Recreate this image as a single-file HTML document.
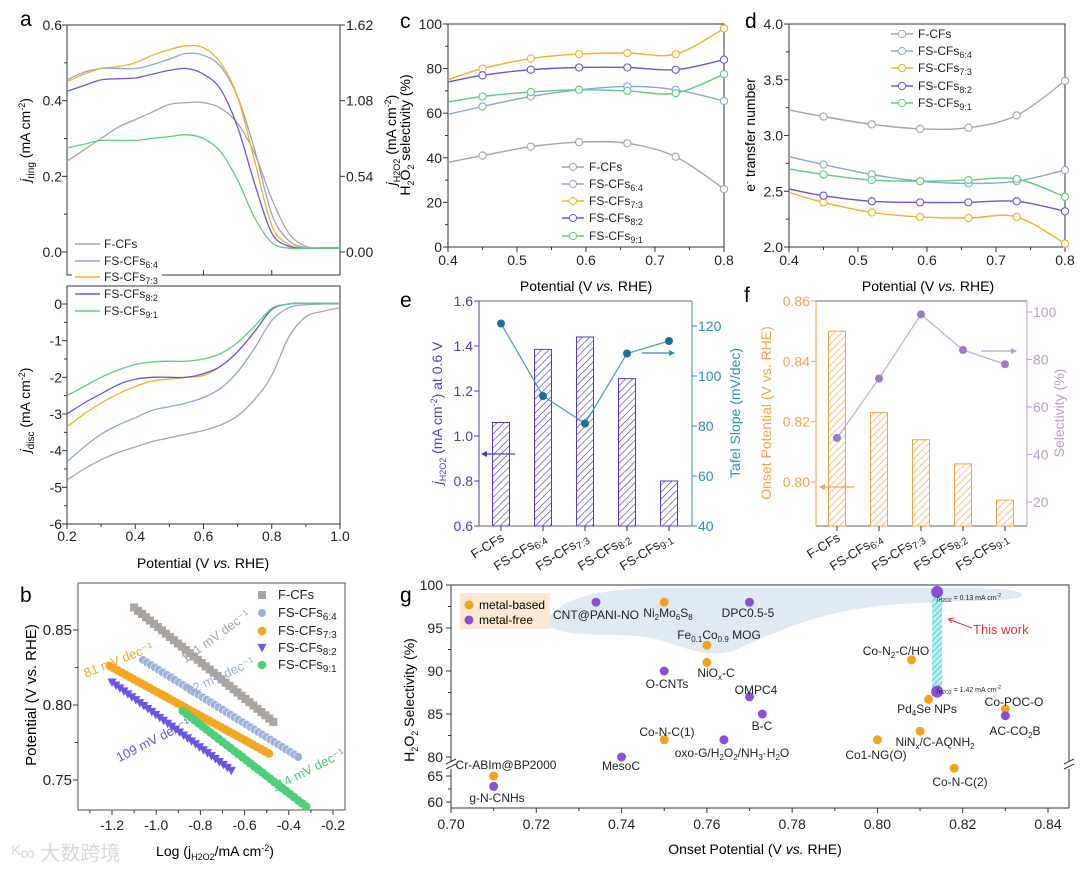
<!DOCTYPE html>
<html><head><meta charset="utf-8">
<style>
html,body{margin:0;padding:0;background:#fff;}
svg{display:block;}
text{font-family:"Liberation Sans","Noto Sans CJK SC",sans-serif;}
</style></head>
<body>
<svg id="fig" width="1080" height="874" viewBox="0 0 1080 874" xmlns="http://www.w3.org/2000/svg">
<defs>
<pattern id="hatchE" width="5" height="5" patternUnits="userSpaceOnUse" patternTransform="rotate(45)"><rect width="5" height="5" fill="#fff"/><line x1="0" y1="0" x2="0" y2="5" stroke="#4a3dc9" stroke-width="1.3"/></pattern>
<pattern id="hatchF" width="5" height="5" patternUnits="userSpaceOnUse" patternTransform="rotate(45)"><rect width="5" height="5" fill="#fff"/><line x1="0" y1="0" x2="0" y2="5" stroke="#f4a24a" stroke-width="1.3"/></pattern>
<pattern id="hatchG" width="4" height="4" patternUnits="userSpaceOnUse" patternTransform="rotate(45)"><rect width="4" height="4" fill="#bdeff2"/><line x1="0" y1="0" x2="0" y2="4" stroke="#3cc4cf" stroke-width="1.6"/></pattern>
</defs>

<text x="20" y="26" font-size="21">a</text>
<text x="20" y="602" font-size="21">b</text>
<text x="400" y="28" font-size="21">c</text>
<text x="745" y="28" font-size="21">d</text>
<text x="400" y="307" font-size="21">e</text>
<text x="744" y="302" font-size="21">f</text>
<text x="400" y="602" font-size="21">g</text>

<text transform="translate(30,140) rotate(-90)" text-anchor="middle" font-size="14"><tspan font-style="italic">j</tspan><tspan font-size="10" dy="4">ring</tspan><tspan dy="-4"> (mA cm</tspan><tspan font-size="9" dy="-5">-2</tspan><tspan dy="5">)</tspan></text>
<text transform="translate(396,140) rotate(-90)" text-anchor="middle" font-size="14"><tspan font-style="italic">j</tspan><tspan font-size="9" dy="4">H2O2</tspan><tspan dy="-4"> (mA cm</tspan><tspan font-size="9" dy="-5">-2</tspan><tspan dy="5">)</tspan></text>
<text transform="translate(30,410) rotate(-90)" text-anchor="middle" font-size="14"><tspan font-style="italic">j</tspan><tspan font-size="10" dy="4">disc</tspan><tspan dy="-4"> (mA cm</tspan><tspan font-size="9" dy="-5">-2</tspan><tspan dy="5">)</tspan></text>
<text x="203" y="568" text-anchor="middle" font-size="14">Potential (V <tspan font-style="italic">vs.</tspan> RHE)</text>

<text transform="translate(36,695) rotate(-90)" text-anchor="middle" font-size="15">Potential (V vs. RHE)</text>
<text x="215" y="856" text-anchor="middle" font-size="14">Log (j<tspan font-size="9" dy="4">H2O2</tspan><tspan dy="-4">/mA cm</tspan><tspan font-size="9" dy="-5">-2</tspan><tspan dy="5">)</tspan></text>
<text x="12" y="860" font-size="20" fill="#d8d8d8">ᴷ∞ 大数跨境</text>

<text transform="translate(410,135) rotate(-90)" text-anchor="middle" font-size="14">H<tspan font-size="9" dy="4">2</tspan><tspan dy="-4">O</tspan><tspan font-size="9" dy="4">2</tspan><tspan dy="-4"> selectivity (%)</tspan></text>
<text x="586" y="291" text-anchor="middle" font-size="14">Potential (V <tspan font-style="italic">vs.</tspan> RHE)</text>
<text transform="translate(755,135) rotate(-90)" text-anchor="middle" font-size="14">e<tspan font-size="9" dy="-5">-</tspan><tspan dy="5"> transfer number</tspan></text>
<text x="928" y="291" text-anchor="middle" font-size="14">Potential (V <tspan font-style="italic">vs.</tspan> RHE)</text>

<text transform="translate(442,413) rotate(-90)" text-anchor="middle" font-size="14" fill="#4a3dc9"><tspan font-style="italic">j</tspan><tspan font-size="9" dy="4">H2O2</tspan><tspan dy="-4"> (mA cm</tspan><tspan font-size="9" dy="-5">-2</tspan><tspan dy="5">) at 0.6 V</tspan></text>
<text transform="translate(740,413) rotate(-90)" text-anchor="middle" font-size="14" fill="#2d8db5">Tafel Slope (mV/dec)</text>
<text transform="translate(771,413) rotate(-90)" text-anchor="middle" font-size="14" fill="#f4a24a">Onset Potential (V vs. RHE)</text>
<text transform="translate(1064,413) rotate(-90)" text-anchor="middle" font-size="14" fill="#b99bd3">Selectivity (%)</text>

<text transform="translate(414,700) rotate(-90)" text-anchor="middle" font-size="14">H<tspan font-size="9" dy="4">2</tspan><tspan dy="-4">O</tspan><tspan font-size="9" dy="4">2</tspan><tspan dy="-4"> Selectivity (%)</tspan></text>
<text x="755" y="854" text-anchor="middle" font-size="14">Onset Potential (V <tspan font-style="italic">vs.</tspan> RHE)</text>

<path d="M548,626 C548,600 600,588 660,588 L960,588 C1000,588 1025,590 1022,596 C1015,602 960,600 900,604 C820,610 780,630 740,648 C715,660 690,650 660,640 C620,630 570,640 548,626 Z" fill="#dfeaf4"/>
<g>
<rect x="460" y="593" width="90" height="36" fill="#fde9d3"/>
<circle cx="469" cy="605" r="4.5" fill="#f7a21b"/><text x="479" y="609" font-size="12">metal-based</text>
<circle cx="469" cy="620" r="4.5" fill="#8a4fd6"/><text x="479" y="624" font-size="12">metal-free</text>
</g>

<g id="layer"></g>
</svg>
<script>
const seriesNames = ['F-CFs','FS-CFs6:4','FS-CFs7:3','FS-CFs8:2','FS-CFs9:1'];
const seriesSubs = ['','6:4','7:3','8:2','9:1'];
const aPotential = [0.2,0.25,0.3,0.35,0.4,0.45,0.5,0.55,0.6,0.65,0.7,0.75,0.8,0.85,0.9,0.95,1.0];
const aRingF  = [0.24,0.27,0.30,0.33,0.35,0.37,0.39,0.395,0.395,0.38,0.34,0.26,0.14,0.05,0.015,0.01,0.01];
const aRing64 = [0.455,0.475,0.485,0.485,0.485,0.495,0.51,0.525,0.52,0.49,0.41,0.27,0.10,0.03,0.012,0.012,0.012];
const aRing73 = [0.45,0.47,0.485,0.49,0.50,0.52,0.535,0.545,0.54,0.50,0.41,0.24,0.07,0.02,0.01,0.01,0.01];
const aRing82 = [0.425,0.44,0.455,0.458,0.46,0.47,0.48,0.485,0.47,0.43,0.33,0.18,0.05,0.015,0.01,0.01,0.01];
const aRing91 = [0.275,0.285,0.295,0.295,0.295,0.30,0.305,0.31,0.30,0.265,0.19,0.09,0.025,0.01,0.01,0.01,0.01];
const aDiscF  = [-4.8,-4.5,-4.25,-4.05,-3.9,-3.75,-3.65,-3.55,-3.45,-3.3,-3.05,-2.6,-1.95,-0.9,-0.35,-0.2,-0.1];
const aDisc64 = [-4.3,-3.9,-3.55,-3.3,-3.1,-2.9,-2.8,-2.7,-2.55,-2.3,-1.85,-1.2,-0.45,-0.1,-0.02,0,0];
const aDisc73 = [-3.35,-3.0,-2.7,-2.45,-2.25,-2.1,-2.05,-2.0,-1.95,-1.7,-1.3,-0.75,-0.15,0,0.02,0.02,0.02];
const aDisc82 = [-3.0,-2.7,-2.45,-2.2,-2.05,-2.0,-2.0,-2.0,-1.9,-1.7,-1.3,-0.75,-0.15,0,0.02,0.02,0.02];
const aDisc91 = [-2.5,-2.25,-2.0,-1.8,-1.65,-1.58,-1.56,-1.56,-1.5,-1.35,-1.05,-0.6,-0.12,0,0.02,0.02,0.02];

const bStartLog = [-1.1,-1.06,-1.21,-1.2,-0.88];
const bEndLog   = [-0.47,-0.35,-0.48,-0.65,-0.32];
const bStartV   = [0.865,0.83,0.826,0.815,0.796];
const bTafel    = [121,92,81,109,114];

const cdPotential = [0.4,0.45,0.52,0.59,0.66,0.73,0.8];
const cSelF  = [38,41,45,47,46.5,40.5,26];
const cSel64 = [59.5,63,67.5,70.5,72,70.5,65.5];
const cSel73 = [75,80,84.5,86.5,87,86.5,98];
const cSel82 = [74,77,79.5,80.5,80.5,79.5,84];
const cSel91 = [65,67.5,69.5,70.5,70,69,77.5];
const dNF  = [3.23,3.17,3.10,3.06,3.07,3.18,3.49];
const dN64 = [2.81,2.74,2.65,2.59,2.57,2.59,2.69];
const dN73 = [2.49,2.40,2.31,2.27,2.26,2.27,2.03];
const dN82 = [2.52,2.46,2.41,2.40,2.40,2.41,2.32];
const dN91 = [2.70,2.65,2.60,2.59,2.60,2.61,2.45];

const efCategories = ['F-CFs','FS-CFs6:4','FS-CFs7:3','FS-CFs8:2','FS-CFs9:1'];
const eCurrent = [1.06,1.385,1.44,1.255,0.80];
const eTafel = [121,92,81,109,114];
const fOnset = [0.85,0.823,0.814,0.806,0.794];
const fSelectivity = [47,72,99,84,78];

const gNames = ['CNT@PANI-NO','Ni2Mo6S8','DPC0.5-5','Fe0.1Co0.9 MOG','NiOx-C','O-CNTs','OMPC4','B-C','Co-N-C(1)','oxo-G/H2O2/NH3·H2O','MesoC','Cr-ABIm@BP2000','g-N-CNHs','Co-N2-C/HO','Pd4Se NPs','NiNx/C-AQNH2','Co1-NG(O)','Co-POC-O','AC-CO2B','Co-N-C(2)'];
const gOnset = [0.734,0.75,0.77,0.76,0.76,0.75,0.77,0.773,0.75,0.764,0.74,0.71,0.71,0.808,0.812,0.81,0.80,0.83,0.83,0.818];
const gSel   = [98,98,98,93,91,90,87,85,82,82,80,65,63,91.3,86.7,83,82,85.6,84.8,66.5];
const gType  = ['free','metal','free','metal','metal','free','free','free','metal','free','free','metal','free','metal','metal','metal','metal','metal','free','metal'];
const gThisWorkOnset = 0.814;
const gThisWorkSel = [99.2,87.6];

const NS='http://www.w3.org/2000/svg';
const layer=document.getElementById('layer');
function mk(tag, attrs, name, parent){
  const e=document.createElementNS(NS,tag);
  for(const k in attrs) e.setAttribute(k,attrs[k]);
  
  
  (parent||layer).appendChild(e);
  return e;
}
function S(d0,d1,r0,r1){return v=>r0+(v-d0)*(r1-r0)/(d1-d0);}
function smooth(p){
  let d='M'+p[0][0].toFixed(1)+','+p[0][1].toFixed(1);
  for(let i=0;i<p.length-1;i++){
    const p0=p[i-1]||p[i],p1=p[i],p2=p[i+1],p3=p[i+2]||p2;
    d+=' C'+(p1[0]+(p2[0]-p0[0])/6).toFixed(1)+','+(p1[1]+(p2[1]-p0[1])/6).toFixed(1)+' '+(p2[0]-(p3[0]-p1[0])/6).toFixed(1)+','+(p2[1]-(p3[1]-p1[1])/6).toFixed(1)+' '+p2[0].toFixed(1)+','+p2[1].toFixed(1);
  }
  return d;
}
function line(x1,y1,x2,y2,name,col,w){return mk('line',{x1,y1,x2,y2,stroke:col||'#333','stroke-width':w||1},name);}
function label(x,y,txt,name,anchor,size,col){const t=mk('text',{x,y,'text-anchor':anchor||'middle','font-size':size||14,fill:col||'#222'},name);t.textContent=txt;return t;}
function seriesLabel(x,y,i,name,size){
  const t=mk('text',{x,y,'font-size':size||12,fill:'#222'},name);
  t.textContent=i===0?'F-CFs':'FS-CFs';
  if(seriesSubs[i]){const s=document.createElementNS(NS,'tspan');s.setAttribute('font-size',(size||12)-3);s.setAttribute('dy','3');s.textContent=seriesSubs[i];t.appendChild(s);}
  return t;
}
function xTicks(sc,vals,y,len,name,col){vals.forEach(v=>line(sc(v),y,sc(v),y+len,name,col));}
function yTicks(sc,vals,x,len,name,col){vals.forEach(v=>line(x,sc(v),x+len,sc(v),name,col));}
function range(a,b,s){const r=[];for(let v=a;v<=b+1e-9;v+=s)r.push(+v.toFixed(4));return r;}
const colors=['#a9a49f','#8da5d8','#f5b01e','#6a55e0','#5ccf7d'];

// panel a
const xa=S(0.2,1.0,67,340), ya1=S(0,0.6,252,25), ya2=S(-6,0,524,304);
mk('rect',{x:67,y:25,width:273,height:250,fill:'none',stroke:'#333'},'a-top-frame');
mk('rect',{x:67,y:286,width:273,height:238,fill:'none',stroke:'#333'},'a-bottom-frame');
yTicks(ya1,range(0,0.6,0.2),67,-5,'a-top-left-tick'); yTicks(ya1,range(0.1,0.5,0.2),67,-3,'a-top-left-minor');
yTicks(ya1,range(0,0.6,0.2),340,5,'a-top-right-tick');
xTicks(xa,range(0.2,1.0,0.2),275,-5,'a-mid-tick');
range(0,0.6,0.2).forEach(v=>label(62,ya1(v)+5,v.toFixed(1),'a-top-y-label','end'));
['0.00','0.54','1.08','1.62'].forEach((t,i)=>label(346,ya1(i*0.2)+5,t,'a-right-y-label','start'));
yTicks(ya2,range(-6,0,1),67,-5,'a-bottom-y-tick'); yTicks(ya2,range(-5.5,-0.5,1),67,-3,'a-bottom-y-minor');
range(-6,0,1).forEach(v=>label(62,ya2(v)+5,String(v),'a-bottom-y-label','end'));
xTicks(xa,range(0.2,1.0,0.2),524,5,'a-x-tick'); xTicks(xa,range(0.3,0.9,0.2),524,3,'a-x-minor');
range(0.2,1.0,0.2).forEach(v=>label(xa(v),541,v.toFixed(1),'a-x-label'));
const aRing=[aRingF,aRing64,aRing73,aRing82,aRing91], aDisc=[aDiscF,aDisc64,aDisc73,aDisc82,aDisc91];
aRing.forEach((arr,i)=>mk('path',{d:smooth(arr.map((v,j)=>[xa(aPotential[j]),ya1(v)])),fill:'none',stroke:colors[i],'stroke-width':1.3},'a-ring-curve-'+seriesSubs[i]));
aDisc.forEach((arr,i)=>mk('path',{d:smooth(arr.map((v,j)=>[xa(aPotential[j]),ya2(v)])),fill:'none',stroke:colors[i],'stroke-width':1.3},'a-disc-curve-'+seriesSubs[i]));
[244,261,277,294,311].forEach((y,i)=>{mk('rect',{x:72,y:y-7,width:90,height:14,fill:'#fff'},'a-legend-bg');line(75,y,100,y,'a-legend-line',colors[i],1.5);seriesLabel(104,y+4,i,'a-legend-entry',12);});

// panel b
const xb=S(-1.2,-0.2,112,333), yb=S(0.75,0.85,780,630);
mk('rect',{x:78,y:583,width:267,height:227,fill:'none',stroke:'#555'},'b-frame');
xTicks(xb,range(-1.2,-0.2,0.2),810,5,'b-x-tick'); xTicks(xb,range(-1.3,-0.3,0.2),810,3,'b-x-minor');
range(-1.2,-0.2,0.2).forEach(v=>label(xb(v),830,v.toFixed(1),'b-x-label'));
yTicks(yb,[0.75,0.8,0.85],78,-5,'b-y-tick'); yTicks(yb,[0.775,0.825],78,-3,'b-y-minor');
[0.75,0.8,0.85].forEach(v=>label(72,yb(v)+5,v.toFixed(2),'b-y-label','end',15));
function bMarker(i,x,y,name){
  if(i===0) return mk('rect',{x:x-4,y:y-4,width:8,height:8,fill:colors[0]},name);
  if(i===3) return mk('path',{d:`M${x-4.5},${y-4} L${x+4.5},${y-4} L${x},${y+4.5} Z`,fill:'#6a55e6'},name);
  return mk('circle',{cx:x,cy:y,r:4.3,fill:i===1?'#9cb0dc':(i===2?'#f5a623':'#4ccf79'),stroke:i===1?'#fff':'none','stroke-width':0.6},name);
}
bStartLog.forEach((x0,i)=>{
  for(let lx=x0;lx<=bEndLog[i]+1e-6;lx+=0.018){
    const v=bStartV[i]-(lx-x0)*bTafel[i]/1000;
    bMarker(i,xb(lx),yb(v),'b-marker-'+seriesSubs[i]);
  }
});
[595,613,631,648,665].forEach((y,i)=>{bMarker(i,262,y,'b-legend-marker');seriesLabel(278,y+4,i,'b-legend-entry',13);});
const bSlopeLbl=[[218,640,-36,'#aaa59f'],[222,680,-25,'#9cb0dc'],[120,664,-22,'#f5a623'],[155,744,-27,'#6a55e6'],[310,774,-27,'#4ccf79']];
bSlopeLbl.forEach((p,i)=>{const t=mk('text',{x:p[0],y:p[1],'text-anchor':'middle','font-size':13,fill:p[3],transform:`rotate(${p[2]} ${p[0]} ${p[1]})`},'b-tafel-slope-label');t.textContent=bTafel[i]+' mV dec⁻¹';});

// panels c & d
const xc=S(0.4,0.8,448,724), yc=S(0,100,247,24);
const xd=S(0.4,0.8,789,1065), yd=S(2,4,247,24);
mk('rect',{x:448,y:24,width:276,height:223,fill:'none',stroke:'#333'},'c-frame');
mk('rect',{x:789,y:24,width:276,height:223,fill:'none',stroke:'#333'},'d-frame');
xTicks(xc,range(0.4,0.8,0.1),247,5,'c-x-tick'); xTicks(xc,range(0.45,0.75,0.1),247,3,'c-x-minor');
xTicks(xd,range(0.4,0.8,0.1),247,5,'d-x-tick'); xTicks(xd,range(0.45,0.75,0.1),247,3,'d-x-minor');
range(0.4,0.8,0.1).forEach(v=>{label(xc(v),265,v.toFixed(1),'c-x-label');label(xd(v),265,v.toFixed(1),'d-x-label');});
yTicks(yc,range(0,100,20),448,-5,'c-y-tick'); yTicks(yc,range(10,90,20),448,-3,'c-y-minor');
range(0,100,20).forEach(v=>label(442,yc(v)+5,String(v),'c-y-label','end'));
yTicks(yd,range(2,4,0.5),789,-5,'d-y-tick'); yTicks(yd,range(2.25,3.75,0.5),789,-3,'d-y-minor');
range(2,4,0.5).forEach(v=>label(783,yd(v)+5,v.toFixed(1),'d-y-label','end'));
const cSel=[cSelF,cSel64,cSel73,cSel82,cSel91], dN=[dNF,dN64,dN73,dN82,dN91];
function drawSeries(arrs,sx,sy,prefix){
  arrs.forEach((arr,i)=>{
    const pts=arr.map((v,j)=>[sx(cdPotential[j]),sy(v)]);
    mk('path',{d:smooth(pts),fill:'none',stroke:colors[i],'stroke-width':1.4},prefix+'-curve-'+seriesSubs[i]);
    pts.slice(1).forEach(p=>mk('circle',{cx:p[0],cy:p[1],r:3.6,fill:'#fff',stroke:colors[i],'stroke-width':1.1},prefix+'-marker-'+seriesSubs[i]));
  });
}
drawSeries(cSel,xc,yc,'c');
drawSeries(dN,xd,yd,'d');
function legendCD(x,ys,prefix){ys.forEach((y,i)=>{line(x-11,y,x+11,y,prefix+'-legend-line',colors[i],1.4);mk('circle',{cx:x,cy:y,r:3.6,fill:'#fff',stroke:colors[i]},prefix+'-legend-marker');seriesLabel(x+16,y+4,i,prefix+'-legend-entry',12);});}
legendCD(573,[167,184,201,218,236],'c');
legendCD(902,[34,51,68,86,103],'d');

// panel e
const xe=i=>501+i*42, yeL=S(0.6,1.6,526,301), yeR=S(40,130,526,301);
line(479,301,692,301,'e-top-axis','#666'); line(479,526,692,526,'e-bottom-axis','#666');
line(479,301,479,526,'e-left-axis','#4a3dc9'); line(692,301,692,526,'e-right-axis','#2d8db5');
yTicks(yeL,range(0.6,1.6,0.2),479,-5,'e-left-tick','#4a3dc9');
range(0.6,1.6,0.2).forEach(v=>label(473,yeL(v)+5,v.toFixed(1),'e-left-label','end',14,'#4a3dc9'));
yTicks(yeR,range(40,120,20),692,5,'e-right-tick','#2d8db5');
range(40,120,20).forEach(v=>label(698,yeR(v)+5,String(v),'e-right-label','start',14,'#2d8db5'));
eCurrent.forEach((v,i)=>mk('rect',{x:xe(i)-8.5,y:yeL(v),width:17,height:526-yeL(v),fill:'url(#hatchE)',stroke:'#4a3dc9','stroke-width':1},'e-bar-'+efCategories[i]));
mk('polyline',{points:eTafel.map((v,i)=>xe(i)+','+yeR(v)).join(' '),fill:'none',stroke:'#3c9dc2','stroke-width':1.2},'e-tafel-line');
eTafel.forEach((v,i)=>mk('circle',{cx:xe(i),cy:yeR(v),r:4,fill:'#1d6f99'},'e-tafel-point'));
line(483,454,515,454,'e-left-arrow','#4a3dc9',1.2); mk('path',{d:'M481,454 L487,451 L487,457 Z',fill:'#4a3dc9'},'e-left-arrowhead');
line(642,353,672,353,'e-right-arrow','#2d8db5',1.2); mk('path',{d:'M675,353 L669,350 L669,356 Z',fill:'#2d8db5'},'e-right-arrowhead');

// panel f
const xf=i=>837+i*42, yfL=S(0.80,0.86,482,301), yfR=S(20,100,502,312);
line(816,301,1027,301,'f-top-axis','#666'); line(816,526,1027,526,'f-bottom-axis','#666');
line(816,301,816,526,'f-left-axis','#f4a24a'); line(1027,301,1027,526,'f-right-axis','#b99bd3');
yTicks(yfL,range(0.80,0.86,0.02),816,-5,'f-left-tick','#f4a24a');
range(0.80,0.86,0.02).forEach(v=>label(810,yfL(v)+5,v.toFixed(2),'f-left-label','end',14,'#f4a24a'));
yTicks(yfR,range(20,100,20),1027,5,'f-right-tick','#b99bd3');
range(20,100,20).forEach(v=>label(1033,yfR(v)+5,String(v),'f-right-label','start',14,'#b99bd3'));
fOnset.forEach((v,i)=>mk('rect',{x:xf(i)-8.5,y:yfL(v),width:17,height:526-yfL(v),fill:'url(#hatchF)',stroke:'#f4a24a','stroke-width':1},'f-bar-'+efCategories[i]));
mk('polyline',{points:fSelectivity.map((v,i)=>xf(i)+','+yfR(v)).join(' '),fill:'none',stroke:'#c3a9df','stroke-width':1.2},'f-selectivity-line');
fSelectivity.forEach((v,i)=>mk('circle',{cx:xf(i),cy:yfR(v),r:4,fill:'#9b7cc4'},'f-selectivity-point'));
line(822,487,854,487,'f-left-arrow','#f4a24a',1.2); mk('path',{d:'M819,487 L825,484 L825,490 Z',fill:'#f4a24a'},'f-left-arrowhead');
line(981,351,1013,351,'f-right-arrow','#b99bd3',1.2); mk('path',{d:'M1017,351 L1011,348 L1011,354 Z',fill:'#b99bd3'},'f-right-arrowhead');

efCategories.forEach((c,i)=>{
  [[xe(i),'e'],[xf(i),'f']].forEach(([x,p])=>{
    line(x,526,x,531,p+'-cat-tick');
    const t=mk('text',{x:x+4,y:540,'text-anchor':'end','font-size':13,fill:'#222',transform:`rotate(-32 ${x+4} 540)`},p+'-category-label');
    t.textContent=i===0?'F-CFs':'FS-CFs';
    if(i>0){const s=document.createElementNS(NS,'tspan');s.setAttribute('font-size','10');s.setAttribute('dy','3');s.textContent=seriesSubs[i];t.appendChild(s);}
  });
});

// panel g
const xg=S(0.70,0.84,451,1048);
const yg=v=>v>=75?585+(100-v)*8.6:776+(65-v)*5.2;
line(451,808,1069,808,'g-x-axis'); line(451,585,1069,585,'g-top-axis');
line(451,585,451,762,'g-y-axis-upper'); line(451,769,451,808,'g-y-axis-lower');
line(1069,585,1069,762,'g-right-axis-upper'); line(1069,769,1069,808,'g-right-axis-lower');
[451,1069].forEach(x=>{line(x-5,764,x+5,759,'g-axis-break');line(x-5,769,x+5,764,'g-axis-break');});
xTicks(xg,range(0.70,0.84,0.02),808,5,'g-x-tick'); xTicks(xg,range(0.71,0.83,0.02),808,3,'g-x-minor');
range(0.70,0.84,0.02).forEach(v=>label(xg(v),829,v.toFixed(2),'g-x-label'));
[60,65,80,85,90,95,100].forEach(v=>{line(451,yg(v),446,yg(v),'g-y-tick');label(443,yg(v)+5,String(v),'g-y-label','end');});
[62.5,82.5,87.5,92.5,97.5].forEach(v=>line(451,yg(v),448,yg(v),'g-y-minor'));
gOnset.forEach((x,i)=>mk('circle',{cx:xg(x),cy:yg(gSel[i]),r:4.5,fill:gType[i]==='metal'?'#f7a21b':'#8a4fd6'},'g-point-'+gNames[i]));
const gx=xg(gThisWorkOnset);
mk('rect',{x:gx-5,y:yg(gThisWorkSel[0]),width:10,height:yg(gThisWorkSel[1])-yg(gThisWorkSel[0]),fill:'url(#hatchG)'},'g-this-work-bar');
gThisWorkSel.forEach(v=>mk('circle',{cx:gx,cy:yg(v),r:6,fill:'#8a4fd6'},'g-this-work-point'));
</script>
<script>
(function(){
const L=[['CNT@PANI-NO',596,619],['Ni<tspan font-size="8" dy="3">2</tspan><tspan dy="-3">Mo</tspan><tspan font-size="8" dy="3">6</tspan><tspan dy="-3">S</tspan><tspan font-size="8" dy="3">8</tspan>',668,617],['DPC0.5-5',748,617],
['Fe<tspan font-size="8" dy="3">0.1</tspan><tspan dy="-3">Co</tspan><tspan font-size="8" dy="3">0.9</tspan><tspan dy="-3"> MOG</tspan>',719,639],['Co-N<tspan font-size="8" dy="3">2</tspan><tspan dy="-3">-C/HO</tspan>',896,655],
['NiO<tspan font-size="8" dy="3">x</tspan><tspan dy="-3">-C</tspan>',716,677],['O-CNTs',667,688],['OMPC4',756,694],['Pd<tspan font-size="8" dy="3">4</tspan><tspan dy="-3">Se NPs</tspan>',927,713],['Co-POC-O',1014,706],
['B-C',762,730],['AC-CO<tspan font-size="8" dy="3">2</tspan><tspan dy="-3">B</tspan>',1015,735],['Co-N-C(1)',667,736],['NiN<tspan font-size="8" dy="3">x</tspan><tspan dy="-3">/C-AQNH</tspan><tspan font-size="8" dy="3">2</tspan>',935,746],
['oxo-G/H<tspan font-size="8" dy="3">2</tspan><tspan dy="-3">O</tspan><tspan font-size="8" dy="3">2</tspan><tspan dy="-3">/NH</tspan><tspan font-size="8" dy="3">3</tspan><tspan dy="-3">·H</tspan><tspan font-size="8" dy="3">2</tspan><tspan dy="-3">O</tspan>',732,757],
['Co1-NG(O)',876,759],['MesoC',621,770],['Cr-ABIm@BP2000',506,769],['g-N-CNHs',497,802],['Co-N-C(2)',960,786]];
const svg=document.getElementById('fig');
L.forEach(a=>{const t=document.createElementNS('http://www.w3.org/2000/svg','text');
t.setAttribute('x',a[1]);t.setAttribute('y',a[2]);t.setAttribute('text-anchor','middle');t.setAttribute('font-size','12');t.setAttribute('fill','#222');


t.innerHTML=a[0];svg.appendChild(t);});
const extra=[['<tspan font-style="italic">j</tspan><tspan font-size="5" dy="2">H2O2</tspan><tspan dy="-2"> = 0.13 mA cm</tspan><tspan font-size="5" dy="-3">-2</tspan>',937,600],['<tspan font-style="italic">j</tspan><tspan font-size="5" dy="2">H2O2</tspan><tspan dy="-2"> = 1.42 mA cm</tspan><tspan font-size="5" dy="-3">-2</tspan>',937,692]];
extra.forEach(a=>{const t=document.createElementNS('http://www.w3.org/2000/svg','text');
t.setAttribute('x',a[1]);t.setAttribute('y',a[2]);t.setAttribute('font-size','7');t.setAttribute('fill','#222');


t.innerHTML=a[0];svg.appendChild(t);});
const tw=document.createElementNS('http://www.w3.org/2000/svg','text');
tw.setAttribute('x','973');tw.setAttribute('y','634');tw.setAttribute('font-size','13');tw.setAttribute('fill','#e8343a');


tw.textContent='This work';svg.appendChild(tw);
const ar=document.createElementNS('http://www.w3.org/2000/svg','path');
ar.setAttribute('d','M972,628 L948,619 M948,619 L954,618 M948,619 L952,623');ar.setAttribute('stroke','#e8343a');ar.setAttribute('fill','none');ar.setAttribute('stroke-width','1');


svg.appendChild(ar);
})();
</script>
</body></html>
